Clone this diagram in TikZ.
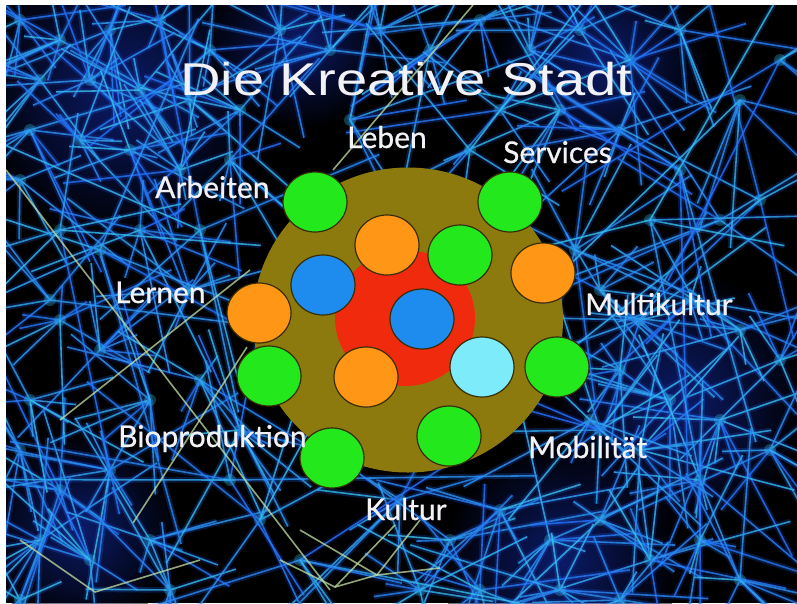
\documentclass[tikz,border=0pt]{standalone}
\usepackage{fontspec}
\setmainfont{Lato}
\newfontfamily\titlefont{Liberation Sans}
\newfontfamily\lblfont{Lato}[FakeBold=0.6]
\usetikzlibrary{shapes.geometric}
\definecolor{cOlive}{RGB}{140,122,14}
\definecolor{cRed}{RGB}{240,42,12}
\definecolor{cGreen}{RGB}{34,232,28}
\definecolor{cOrange}{RGB}{255,150,22}
\definecolor{cBlue}{RGB}{30,140,238}
\definecolor{cCyan}{RGB}{125,235,250}
\definecolor{cRim}{RGB}{55,45,5}
\definecolor{netDark}{RGB}{22,50,190}
\definecolor{netBlue}{RGB}{35,115,250}
\definecolor{netCyan}{RGB}{55,200,230}
\definecolor{netPale}{RGB}{195,225,165}
\definecolor{txt}{RGB}{242,242,246}
\tikzset{
  dot/.style={ellipse, draw=cRim, line width=1.2pt, minimum width=64pt, minimum height=60pt, inner sep=0pt},
  lbl/.style={text=txt, font=\lblfont\fontsize{30}{30}\selectfont, anchor=base west, inner sep=0pt},
  pale/.style={draw=netPale, line width=1.6pt, opacity=0.75},
}
\newcommand\netlines[3]{% hub list, count, length range
  \foreach \hx/\hy in {#1}{
    \foreach \k in {1,...,#2}{
      \pgfmathsetmacro\ang{rnd*360}
      \pgfmathsetmacro\len{#3}
      \pgfmathtruncatemacro\ca{rnd*100}
      \pgfmathtruncatemacro\cb{rnd*100}
      \draw[line width=5.5pt, opacity=0.24, color=netBlue!\ca!netDark] (\hx,\hy) -- ++(\ang:\len);
      \draw[line width=1.6pt, opacity=0.8, color=netCyan!\cb!netBlue] (\hx,\hy) -- ++(\ang:\len);
    }
    \fill[netCyan, opacity=0.3] (\hx,\hy) circle (6pt);
  }}
\begin{document}
\begin{tikzpicture}[x=1pt,y=-1pt]
\useasboundingbox (0,0) rectangle (797,603);
\fill[white] (0,0) rectangle (797,603);
\fill[black] (6,5) rectangle (797,603);
\begin{scope}
\clip (6,5) rectangle (797,603);
\pgfmathsetseed{2024}
% soft haze in the dense regions
\foreach \bx/\by/\br in {120/90/150,680/400/130,560/560/120,80/530/100,600/60/110,300/40/90}{
  \shade[inner color=netDark, outer color=black, opacity=0.55] (\bx,\by) circle (\br);
}
% dense clusters, short lines
\netlines{20/20,60/40,110/30,160/20,210/50,40/80,90/80,140/90,190/100,240/110,30/130,80/140,130/150,180/170,230/160,20/180,
  280/30,330/50,380/30,430/50,480/20,530/50,580/30,630/60,680/30,560/110,620/130,500/110,
  600/290,640/320,690/300,740/330,780/360,620/370,670/400,720/420,770/450,640/450,700/480,600/430,
  400/500,450/540,500/510,550/540,600/520,650/560,700/540,480/590,560/590,620/600,420/590,740/580,
  20/450,60/490,110/470,40/540,90/560,150/540,20/600,170/590,
  60/320,100/350,30/400,150/400,200/380,190/290,140/230,590/420,575/250,240/430}{9}{30+rnd*130}
% sparse hubs, long lines
\netlines{100/250,50/300,720/220,760/200,680/170,260/520,300/560,740/100,350/120,470/150,200/230,780/60,230/480,60/230,650/220}{6}{100+rnd*220}
% pale long lines
\draw[pale] (6,170) -- (330,590);
\draw[pale] (60,420) -- (250,270);
\draw[pale] (133,523) -- (247,347);
\draw[pale] (333,170) -- (473,5);
\draw[pale] (300,530) -- (377,575) -- (440,568);
\draw[pale] (377,575) -- (420,520);
\draw[pale] (335,587) -- (395,525);
\draw[pale] (280,560) -- (335,587) -- (377,575);
\draw[pale] (20,540) -- (95,592) -- (200,560);
\end{scope}

\node[text=txt, anchor=base west, inner sep=0pt, font=\titlefont\fontsize{46}{46}\selectfont] (title) at (180,95) {\scalebox{1.22}[1]{Die Kreative Stadt}};

\node[ellipse, fill=cOlive, minimum width=310pt, minimum height=305pt, inner sep=0pt] (ring) at (408,320) {};
\node[ellipse, fill=cRed, minimum width=140pt, minimum height=136pt, inner sep=0pt] (core) at (405,318) {};

\node[dot, fill=cGreen] (g1) at (315,202) {};
\node[dot, fill=cGreen] (g2) at (510,202) {};
\node[dot, fill=cOrange] (o1) at (387,245) {};
\node[dot, fill=cGreen] (g3) at (460,255) {};
\node[dot, fill=cOrange] (o2) at (543,273) {};
\node[dot, fill=cBlue] (b1) at (323,285) {};
\node[dot, fill=cOrange] (o3) at (259,313) {};
\node[dot, fill=cBlue] (b2) at (422,319) {};
\node[dot, fill=cGreen] (g4) at (269,376) {};
\node[dot, fill=cOrange] (o4) at (366,377) {};
\node[dot, fill=cCyan] (c1) at (482,367) {};
\node[dot, fill=cGreen] (g5) at (557,367) {};
\node[dot, fill=cGreen] (g6) at (449,436) {};
\node[dot, fill=cGreen] (g7) at (332,458) {};

\node[lbl] (leben) at (347,148) {Leben};
\node[lbl] (services) at (503,163) {Services};
\node[lbl] (arbeiten) at (155,198) {Arbeiten};
\node[lbl] (lernen) at (115,303) {Lernen};
\node[lbl] (multi) at (585,315) {Multikultur};
\node[lbl] (bio) at (118,447) {Bioproduktion};
\node[lbl] (mobil) at (528,458) {Mobilität};
\node[lbl] (kultur) at (365,520) {Kultur};
\end{tikzpicture}
\end{document}
